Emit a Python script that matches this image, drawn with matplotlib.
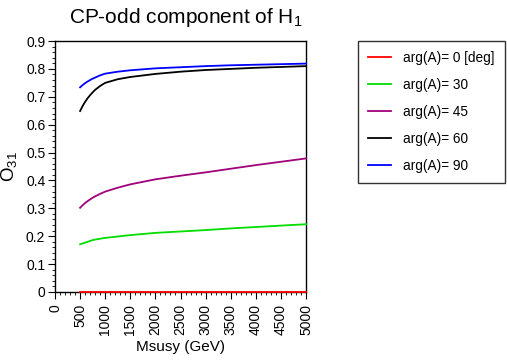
import matplotlib
matplotlib.use("Agg")
import matplotlib.pyplot as plt
from matplotlib.ticker import MultipleLocator

plt.rcParams['font.family'] = ['Liberation Sans', 'DejaVu Sans']
plt.rcParams['mathtext.fontset'] = 'custom'
plt.rcParams['mathtext.rm'] = 'Liberation Sans'
plt.rcParams['mathtext.it'] = 'Liberation Sans'

msusy = [500, 550, 600, 650, 700, 750, 800, 900, 1000, 1250, 1500, 2000, 2500, 3000, 3500, 4000, 4500, 5000]
o31_0 = [0] * 18
o31_30 = [0.171, 0.174, 0.177, 0.180, 0.183, 0.186, 0.188, 0.191, 0.194, 0.199, 0.204, 0.212, 0.217, 0.222, 0.228, 0.233, 0.238, 0.243]
o31_45 = [0.302, 0.311, 0.319, 0.326, 0.332, 0.338, 0.343, 0.352, 0.360, 0.374, 0.386, 0.404, 0.417, 0.429, 0.442, 0.455, 0.467, 0.479]
o31_60 = [0.649, 0.667, 0.682, 0.695, 0.706, 0.716, 0.725, 0.739, 0.750, 0.763, 0.771, 0.782, 0.790, 0.796, 0.800, 0.804, 0.807, 0.810]
o31_90 = [0.734, 0.742, 0.749, 0.755, 0.760, 0.765, 0.769, 0.777, 0.783, 0.790, 0.795, 0.802, 0.806, 0.810, 0.813, 0.815, 0.817, 0.819]

labels = ['arg(A)= 0 [deg]', 'arg(A)= 30', 'arg(A)= 45', 'arg(A)= 60', 'arg(A)= 90']
colors = ['#ff0000', '#00dd00', '#a0007a', '#000000', '#0000ff']
series = [o31_0, o31_30, o31_45, o31_60, o31_90]

fig = plt.figure(figsize=(5.07, 3.62), dpi=100)
ax = fig.add_axes([0.1085, 0.1934, 0.4951, 0.6933])

for s, c, l in zip(series, colors, labels):
    ax.plot(msusy, s, color=c, lw=1.3, label=l, zorder=5, clip_on=False)

ax.set_xlim(0, 5000)
ax.set_ylim(0, 0.9)
ax.xaxis.set_major_locator(MultipleLocator(500))
ax.xaxis.set_minor_locator(MultipleLocator(100))
ax.yaxis.set_minor_locator(MultipleLocator(0.02))
ax.set_yticks([i / 10 for i in range(10)])
ax.set_yticklabels(['0'] + ['%.1f' % (i / 10) for i in range(1, 10)])
ax.tick_params(which='major', direction='out', length=5, labelsize=10)
ax.tick_params(which='minor', direction='out', length=2.5)
ax.tick_params(axis='x', labelrotation=90)
ax.tick_params(axis='y', pad=2)
for sp in ax.spines.values():
    sp.set_linewidth(1.0)

ax.set_xlabel('Msusy (GeV)', fontsize=11, labelpad=4)
ax.set_ylabel(r'O$_{31}$', fontsize=13.5, labelpad=5)
fig.text(0.367, 0.953, r'CP-odd component of H$_1$', fontsize=15, ha='center', va='center')

leg = fig.legend(loc='upper left', bbox_to_anchor=(358 / 507, (362 - 41) / 362), fontsize=9.8,
                 frameon=True, fancybox=False, handlelength=1.7, labelspacing=0.95,
                 borderpad=0.75, handletextpad=0.88, borderaxespad=0)
leg.get_frame().set_edgecolor('black')
leg.get_frame().set_linewidth(1.0)

fig.savefig('out.png', dpi=100)
